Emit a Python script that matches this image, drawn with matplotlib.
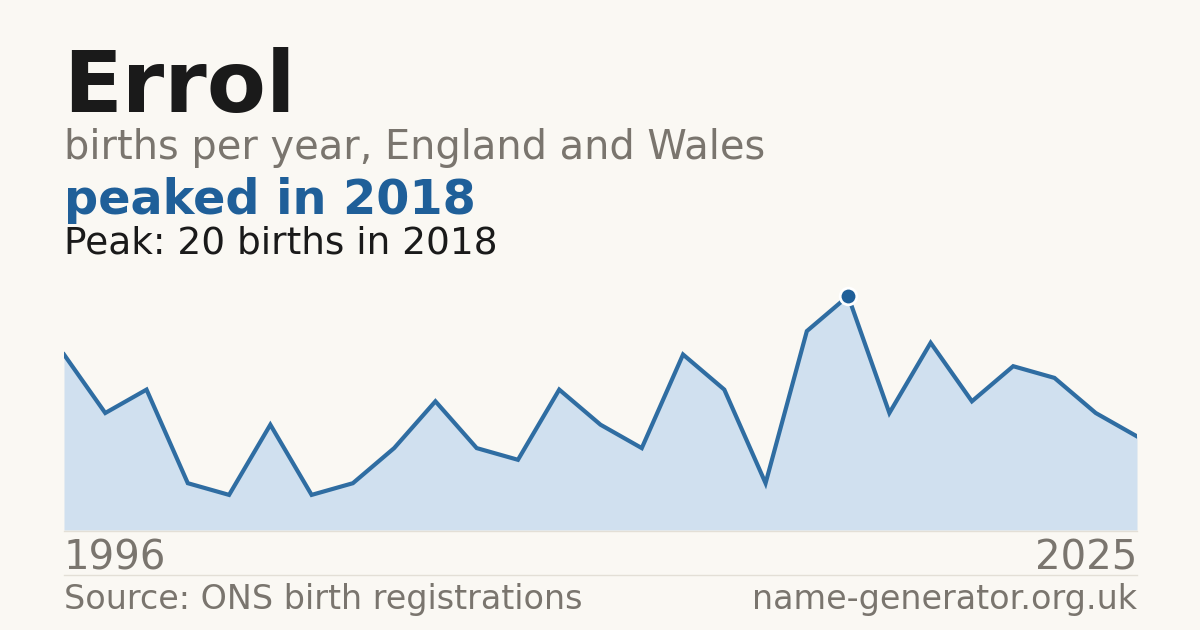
import numpy as np
import matplotlib
matplotlib.use('agg')
import matplotlib.pyplot as plt

# births per year (3 low years not published, so 27 points)
years = [1996, 1997, 1998, 1999, 2001, 2002, 2003, 2004, 2005, 2007,
         2008, 2009, 2010, 2011, 2012, 2014, 2015, 2016, 2017, 2018,
         2019, 2020, 2021, 2022, 2023, 2024, 2025]
births = [15, 10, 12, 4, 3, 9, 3, 4, 7, 11,
          7, 6, 12, 9, 7, 15, 12, 4, 17, 20,
          10, 16, 11, 14, 13, 10, 8]
name = "Errol"
peak_year = 2018
peak_value = 20

bg = '#faf8f3'
line_col = '#2f6da2'
fill_col = '#d0e0ef'
dark = '#1a1a1a'
grey = '#7a756e'
blue = '#1f5f99'

W, H = 1200, 630
fig = plt.figure(figsize=(12, 6.3), dpi=100, facecolor=bg)


def px(x, y):
    return x / W, 1 - y / H


x = np.arange(len(years))
ax = fig.add_axes([64 / W, (H - 530) / H, (1137 - 64) / W, (530 - 296) / H])
ax.set_facecolor(bg)
ax.fill_between(x, births, 0, color=fill_col, lw=0)
ax.plot(x, births, color=line_col, lw=3, solid_joinstyle='miter')
pi = years.index(peak_year)
ax.plot(x[pi], births[pi], 'o', ms=12, color=blue, mec='white', mew=2,
        clip_on=False, zorder=5)
ax.set_xlim(0, len(years) - 1)
ax.set_ylim(0, max(births))
ax.axis('off')

# thin baseline and separator
fig.add_artist(plt.Line2D([64 / W, 1137 / W], [1 - 530.5 / H] * 2,
                          color='#e3dfd6', lw=1))
fig.add_artist(plt.Line2D([64 / W, 1137 / W], [1 - 574.5 / H] * 2,
                          color='#e3dfd6', lw=1))

fig.text(*px(63, 112), name, fontsize=62, fontweight='bold', color=dark,
         va='baseline')
fig.text(*px(64, 159), "births per year, England and Wales", fontsize=28.7,
         color=grey, va='baseline')
fig.text(*px(64, 214), f"peaked in {peak_year}", fontsize=34.4,
         fontweight='bold', color=blue, va='baseline')
fig.text(*px(64, 253), f"Peak: {peak_value} births in {peak_year}",
         fontsize=27, color=dark, va='baseline')
fig.text(*px(64, 570), str(years[0]), fontsize=29, color=grey, va='baseline')
fig.text(*px(1137, 570), str(years[-1]), fontsize=29, color=grey,
         va='baseline', ha='right')
fig.text(*px(64, 609), "Source: ONS birth registrations", fontsize=24,
         color=grey, va='baseline')
fig.text(*px(1137, 609), "name-generator.org.uk", fontsize=24,
         color=grey, va='baseline', ha='right')

fig.savefig('out.png', dpi=100, facecolor=bg)
